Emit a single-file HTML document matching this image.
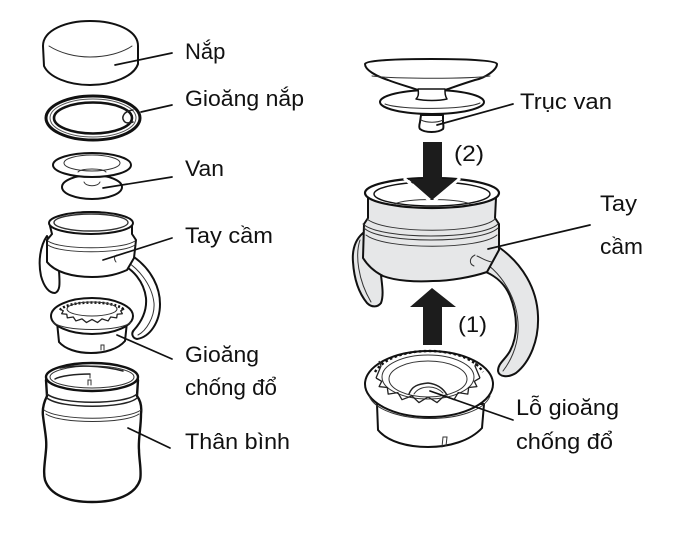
<!DOCTYPE html>
<html><head><meta charset="utf-8"><style>
html,body{margin:0;padding:0;background:#fff}
svg{display:block}
text{font-family:"Liberation Sans",sans-serif;font-size:22px;fill:#111}
.o{fill:#fff;stroke:#111;stroke-width:2;stroke-linejoin:round;stroke-linecap:round}
.t{fill:none;stroke:#333;stroke-width:1;stroke-linecap:round}
.m{fill:none;stroke:#222;stroke-width:1.5;stroke-linecap:round}
.g{fill:#e6e7e8;stroke:#111;stroke-width:2;stroke-linejoin:round}
.l{fill:none;stroke:#111;stroke-width:1.7;stroke-linecap:round}
.z{fill:none;stroke:#222;stroke-width:1.3;stroke-linejoin:round}
</style></head><body>
<svg width="700" height="537" viewBox="0 0 700 537" xmlns="http://www.w3.org/2000/svg">
<rect width="700" height="537" fill="#fff"/>

<!-- Lid -->
<path class="o" d="M43,46C43,30 66,21 90,21C115,21 138,30 138,46L138,64C134,76 113,85 90,85C68,85 49,77 44,66Z"/>
<path class="t" d="M49,46C60,53 75,57 90,57C106,57 122,53 132,46"/>
<!-- Gasket ring -->
<ellipse cx="93" cy="118" rx="47" ry="22" fill="#fff" stroke="#111" stroke-width="3"/>
<ellipse cx="93" cy="118" rx="43" ry="19" fill="none" stroke="#555" stroke-width="1"/>
<ellipse cx="93" cy="118" rx="39" ry="15.5" fill="#fff" stroke="#111" stroke-width="2.6"/>
<path class="m" d="M133,110C124,111 121,117 124,121C126,124 130,123 133,122"/>
<!-- Valve -->
<ellipse cx="92" cy="187" rx="30" ry="12" class="o"/>
<ellipse cx="92" cy="165" rx="39" ry="12" class="o"/>
<ellipse cx="92" cy="163" rx="28" ry="8" class="t"/>
<path class="t" d="M78,172C82,168 102,168 106,172"/>
<path class="t" d="M84,182C86,187 98,187 100,182"/>
<!-- Left handle (left cup) -->
<path class="o" d="M47,236C40,246 38,262 41,276C44,287 49,293 55,293C60,291 60,285 59,271L59,262Z"/>
<path class="o" d="M118,255L134,257C152,270 160,288 160,304C160,322 150,337 137,339C132,338 131,333 134,330C143,320 147,310 146,298C144,282 133,268 118,263Z"/>
<path class="t" d="M120,258C138,266 152,285 154,303C155,317 146,331 138,335"/>
<!-- Left cup body -->
<path class="o" d="M47,240L47,262C55,272 72,277 92,277C108,277 118,274 127,270L134,258L136,240L132,234L132,226C132,218 112,212 91,212C70,212 50,218 50,226L52,234Z"/>
<ellipse cx="91" cy="223" rx="42" ry="11" class="o"/>
<ellipse cx="91" cy="222.500" rx="37" ry="8.500" fill="#fff" stroke="#333" stroke-width="1.400"/>
<path class="t" d="M48,241C60,250 122,250 135,241M48,245C60,254 122,254 135,245"/>
<path class="t" d="M116,262C113,258 115,255 118,255"/>
<!-- Small anti-spill gasket -->
<path class="o" d="M57,322L59,342C65,349 77,353 91,353C105,353 118,349 125,341L127,322Z"/>
<ellipse cx="92" cy="316" rx="41" ry="18" class="o"/>
<path class="t" d="M53,322C62,332 122,332 131,322"/>
<path d="M60,310C68,300 116,300 124,310" fill="none" stroke="#111" stroke-width="2.600" stroke-dasharray="2 2"/>
<ellipse cx="92" cy="309" rx="25" ry="7" class="t"/>
<path class="z" transform="translate(92,309) scale(.62,.55) translate(-428,-378)" vector-effect="non-scaling-stroke" d="M480,378L474.300,381.300L476.900,386.600L468.700,387.500L467.800,394.100L458.200,392.600L454,399.700L444.100,395.900L437,402.600L428,397L419,402.600L411.900,395.900L402,399.700L397.800,392.600L388.200,394.100L387.300,387.500L379.100,386.600L381.700,381.300L376,378"/>
<path class="t" d="M101,350L101,345L104,345L104,350"/>
<!-- Bottle -->
<path class="o" d="M46,380L47,396C44,402 42,408 43,416C45,432 47,440 46,450C45,462 43,472 45,480C50,495 68,502 92,502C116,502 135,495 140,480C142,472 139,460 139,450C138,440 141,428 141,414C142,406 140,400 137,396L138,380Z" style="stroke-width:2.400"/>
<ellipse cx="92" cy="377" rx="46" ry="14" class="o" style="stroke-width:2.400"/>
<ellipse cx="92" cy="377" rx="42" ry="11" class="t"/>
<path class="m" d="M60,368C75,365 100,365 123,371M55,379C60,376 75,374 90,374"/>
<path class="t" d="M90,374L90,378M88,385L88,380L91,380L91,385"/>
<path class="m" d="M47,394C60,405 125,405 137,394M47,398C60,409 125,409 137,398"/>
<path class="t" d="M44,410C60,421 125,421 141,410M46,414C60,424 125,424 139,414"/>

<!-- Right: valve shaft -->
<path class="o" d="M418,80L418,96L446,96L446,80Z"/>
<path class="o" d="M365,64C366,60 400,59 431,59C462,59 496,60 497,64C497,70 485,78 475,80C462,84 451,88 445,90L418,90C410,87 398,84 388,80C376,76 365,70 365,64Z"/>
<path class="t" d="M372,76C395,79 470,79 490,76"/>
<ellipse cx="432" cy="102" rx="52" ry="12" class="o"/>
<path class="t" d="M385,104C400,110 465,110 480,103"/>
<path class="o" d="M418,89C419,95 418,97 416,99C425,101 439,101 447,99C445,96 445,93 445,89Z" style="stroke-width:1.500"/>
<path class="o" d="M421,115L420,122C419,126 419,128 420,129C425,133 438,133 443,129C444,127 443,123 443,122L443,115Z"/>
<path class="t" d="M421,120C427,123 437,123 443,120"/>

<!-- Right cup handles -->
<path class="g" d="M363,233C355,240 352,250 353,262C354,278 358,292 367,303C372,308 378,307 381,303C384,295 382,285 381,275L372,250Z"/>
<path class="t" d="M360,240C355,255 358,280 371,302"/>
<path class="g" d="M490,249L500,248C522,264 537,288 538,316C539,340 530,362 516,373C508,378 499,377 498,371C498,363 505,360 510,351C518,336 518,316 510,296C505,284 497,277 486,272L478,255Z"/>
<path class="t" d="M476,258C500,268 520,300 518,332C517,348 510,362 503,371"/>
<!-- Right cup body -->
<path class="g" d="M364,224L363,258C368,266 375,272 383,276C396,281 416,282 433,281C450,281 472,277 487,272L499,250L499,224L495,218L496,198L368,198L368,218Z"/>
<path class="t" d="M363,224C380,240 482,240 498,224M364,228C380,244 482,244 498,228"/>
<path class="t" d="M367,219C385,234 480,234 495,219M366,235C385,250 480,250 497,235"/>
<path class="t" d="M475,255C469,258 469,264 474,266M477,256C482,258 485,261 492,262"/>
<ellipse cx="432" cy="193" rx="67" ry="15" class="g" style="fill:#fff;stroke-width:2.200"/>
<ellipse cx="432" cy="194" rx="58" ry="12" class="o" style="stroke-width:1.400"/>
<path class="t" d="M395,204C405,198 458,198 470,204"/>
<!-- Arrow down -->
<path d="M404,178L432,203L460,178" fill="none" stroke="#fff" stroke-width="3"/>
<path d="M423,142H442V179H457L432,200L408,179H423Z" fill="#1c1c1c"/>
<!-- Arrow up -->
<path d="M432,288L456,307H442V345H423V307H410Z" fill="#1c1c1c"/>

<!-- Right anti-spill gasket -->
<path class="o" d="M377,404L378,430C388,442 408,447 428,447C449,447 470,441 482,428L484,404Z"/>
<ellipse cx="429" cy="384" rx="64" ry="33" class="o"/>
<path class="t" d="M369,396C382,426 478,426 490,396"/>
<path d="M375,372C392,344 466,344 483,372" fill="none" stroke="#111" stroke-width="2.400" stroke-dasharray="2.500 2.500"/>
<ellipse cx="428" cy="377" rx="46" ry="22" class="t"/>
<ellipse cx="428" cy="379" rx="39" ry="18" class="t"/>
<path class="z" d="M480,378L474.300,381.300L476.900,386.600L468.700,387.500L467.800,394.100L458.200,392.600L454,399.700L444.100,395.900L437,402.600L428,397L419,402.600L411.900,395.900L402,399.700L397.800,392.600L388.200,394.100L387.300,387.500L379.100,386.600L381.700,381.300L376,378"/>
<path class="z" d="M376,378L381,366L379,361M480,378L475,366L477,361"/>
<path class="m" d="M409,394C412,386 418,384 428,383C437,384 443,388 447,395"/>
<path class="t" d="M414,394C418,388 424,387 429,387C436,387 440,390 443,393"/>
<path class="t" d="M442,447L443,437L447,437L446,446"/>

<!-- Leader lines -->
<path class="l" d="M115,65L172,53"/>
<path class="l" d="M141,112L172,105"/>
<path class="l" d="M103,188L172,177"/>
<path class="l" d="M103,260L172,238"/>
<path class="l" d="M117,335L172,359"/>
<path class="l" d="M128,428L170,448"/>
<path class="l" d="M437,125L513,104"/>
<path class="l" d="M488,249L590,225"/>
<path class="l" d="M430,391L513,420"/>

<!-- Labels -->
<text x="185" y="59">Nắp</text>
<text x="185" y="106" textLength="119" lengthAdjust="spacingAndGlyphs">Gioăng nắp</text>
<text x="185" y="176" textLength="39" lengthAdjust="spacingAndGlyphs">Van</text>
<text x="185" y="243" textLength="88" lengthAdjust="spacingAndGlyphs">Tay cầm</text>
<text x="185" y="362" textLength="74" lengthAdjust="spacingAndGlyphs">Gioăng</text>
<text x="185" y="395" textLength="92" lengthAdjust="spacingAndGlyphs">chống đổ</text>
<text x="185" y="449" textLength="105" lengthAdjust="spacingAndGlyphs">Thân bình</text>
<text x="520" y="109" textLength="92" lengthAdjust="spacingAndGlyphs">Trục van</text>
<text x="600" y="211" textLength="37" lengthAdjust="spacingAndGlyphs">Tay</text>
<text x="600" y="254" textLength="43" lengthAdjust="spacingAndGlyphs">cầm</text>
<text x="516" y="415" textLength="103" lengthAdjust="spacingAndGlyphs">Lỗ gioăng</text>
<text x="516" y="449" textLength="97" lengthAdjust="spacingAndGlyphs">chống đổ</text>
<text x="454" y="161" textLength="30" lengthAdjust="spacingAndGlyphs">(2)</text>
<text x="458" y="332" textLength="29" lengthAdjust="spacingAndGlyphs">(1)</text>
</svg>
</body></html>
